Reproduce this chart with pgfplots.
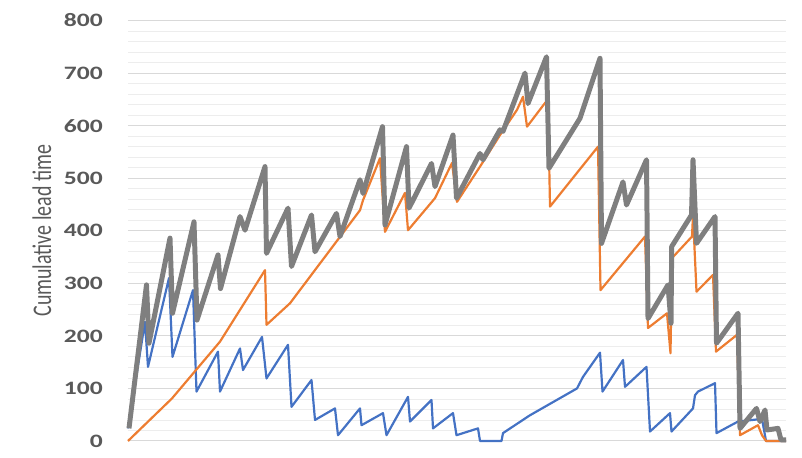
\documentclass[border=0pt]{standalone}
\usepackage{pgfplots}
\pgfplotsset{compat=1.18}
\usepackage{fontspec}
\setmainfont{Carlito}
\definecolor{cblue}{HTML}{4472C4}
\definecolor{corange}{HTML}{ED7D31}
\definecolor{cgray}{HTML}{7F7F7F}
\definecolor{ctext}{HTML}{595959}
\begin{document}
\begin{tikzpicture}
\begin{axis}[name=ax,
  scale only axis, width=658bp, height=420.5bp,
  xmin=128, xmax=786, ymin=0, ymax=800,
  xtick=\empty,
  ytick={0,100,...,800},
  minor y tick num=4,
  ymajorgrids, yminorgrids,
  major grid style={draw=black!15, line width=1pt},
  minor grid style={draw=black!7, line width=0.8pt},
  axis line style={draw=none},
  major tick length=0pt, minor tick length=0pt,
  tick style={draw=none},
  clip=false,
  /pgf/number format/assume math mode=true,
  yticklabel style={anchor=east, inner sep=0pt, xshift=-25bp, font=\fontsize{19}{20}\selectfont\bfseries, text=ctext},
  yticklabel={\scalebox{1.35}[1]{\pgfmathprintnumber{\tick}}},
  ylabel={\scalebox{1}[1.35]{Cumulative lead time}},
  ylabel style={at={(axis description cs:-0.1307,0.5)}, anchor=center, font=\fontsize{20}{22}\selectfont, text=ctext},
  line join=round,
]
\addplot[cblue, line width=2.2pt] coordinates {
(128,24) (145,227) (148,141) (169,310) (172.5,160) (193,287) (196.5,94) (218,170) (220,94)
(240,176) (243,135) (262,198) (266.5,119) (288,183) (291.5,65) (311.5,116) (315,40)
(335,62) (338,11) (360,62) (361.5,30) (383,53) (386.5,11) (408,84) (410,37) (431.5,78)
(433,24) (453,53) (456.5,11) (478,24) (480,0) (501.5,0) (503,15) (530,49) (577,100)
(583,122) (600,168) (602.5,94) (623,154) (625,103) (646.5,141) (650,18) (670,53) (671.5,18)
(693,62) (695,87) (698,94) (715,110) (716.5,15) (738,37) (762,42) (766,0) (786,0)
};
\addplot[corange, line width=2.2pt] coordinates {
(128,0) (172,81) (220,189) (265,325) (266.5,221) (290,262) (360,439) (363,458) (380,538)
(385,398) (405,472) (408,401) (435,462) (452,529) (457,455) (480,522) (500,582) (517,630)
(523,655) (527,598) (545,643) (548,650) (550,446) (598,560) (600.5,287) (645,389) (648,215)
(667,243) (670.5,167) (672,348) (692,389) (693,430) (696.5,284) (713,316) (716,170)
(737,202) (740,11) (758,30) (762,11) (766,0) (786,0)
};
\addplot[cgray, line width=5pt] coordinates {
(129,24) (146.5,297) (149,186) (170,386) (172.5,243) (194,417) (197,230) (218,354) (220.5,290)
(240,427) (245,401) (265,522) (266.5,357) (288,443) (291.5,332) (311.5,430) (315,360)
(336.5,433) (340,389) (360,497) (363,471) (382.5,598) (385,411) (406.5,560) (409,443)
(431.5,528) (435,484) (453,582) (456.5,462) (480,547) (483,535) (500,592) (503,589)
(525,700) (528,642) (546.5,731) (549,519) (580,614) (600,728) (601.5,376) (623,493)
(626.5,449) (646.5,535) (648,233) (668,297) (671,224) (671.7,370) (691.5,430) (693,535)
(696.5,376) (715,427) (716.5,186) (738,243) (740,24) (756.5,62) (760,37) (765,59)
(767,21) (778,24) (781,2) (786,2)
};
\end{axis}
\pgfresetboundingbox
\path[use as bounding box] ([xshift=-128bp,yshift=-17bp]ax.south west) rectangle ([xshift=16bp,yshift=20.5bp]ax.north east);
\end{tikzpicture}
\end{document}
